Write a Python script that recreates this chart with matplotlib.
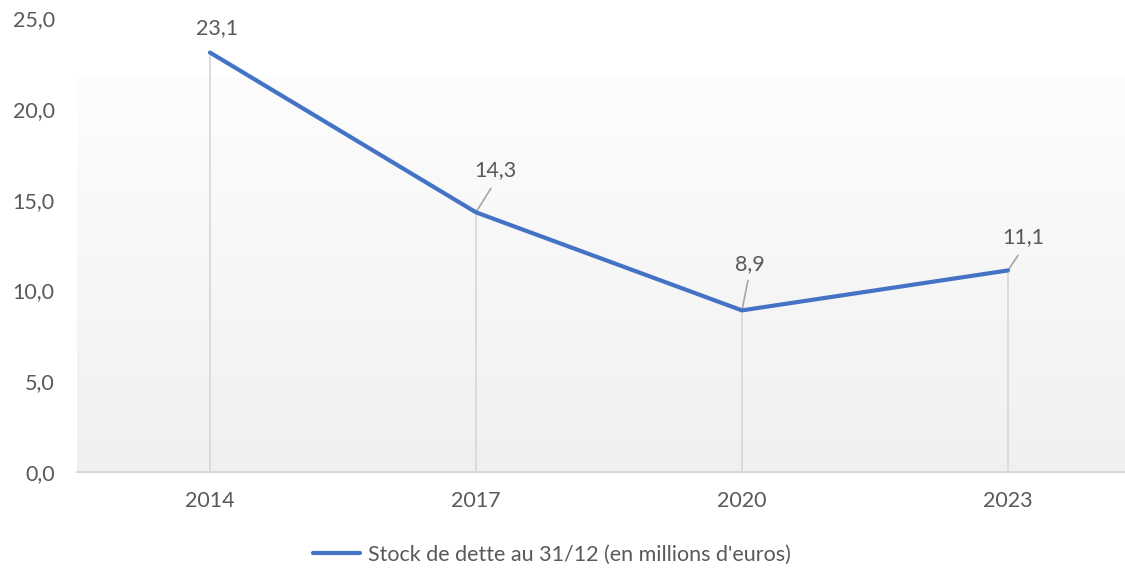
import matplotlib.pyplot as plt
import numpy as np
from matplotlib.colors import LinearSegmentedColormap
from matplotlib.ticker import FuncFormatter

# Data
years = ['2014', '2017', '2020', '2023']
stock = [23.1, 14.3, 8.9, 11.1]
series_name = "Stock de dette au 31/12 (en millions d'euros)"
# label offsets (pixels): text centre, leader end (None = no leader)
label_offsets = [(7, 24), (19, 42), (8, 46), (15, 33)]
leader_offsets = [None, (15, 24), (6, 30), (10, 15)]

plt.rcParams['font.family'] = ['Lato', 'DejaVu Sans']
txt_col = '#595959'
fs = 15.5

fig = plt.figure(figsize=(11.25, 5.74), dpi=100)
ax = fig.add_axes([0.0684, 0.1777, 0.9316, 0.7909])

x = np.arange(len(years))

# gradient background of plot area
grad = np.linspace(0, 1, 256).reshape(-1, 1)
cmap = LinearSegmentedColormap.from_list('bg', ['#f0f0f0', '#fdfdfd'])
ax.imshow(grad, cmap=cmap, aspect='auto', origin='lower',
          extent=[0, 1, 0, 0.87], transform=ax.transAxes, zorder=0)

# drop lines
ax.vlines(x, 0, stock, color='#d9d9d9', linewidth=1.3, zorder=1)

# main line
ax.plot(x, stock, color='#4472C4', linewidth=3, solid_capstyle='round',
        label=series_name, zorder=3)

# data labels
for i, v in enumerate(stock):
    if leader_offsets[i] is not None:
        ax.annotate('', xy=(i, v), xytext=leader_offsets[i], textcoords='offset pixels',
                    arrowprops=dict(arrowstyle='-', color='#a6a6a6', lw=1.2,
                                    shrinkA=0, shrinkB=0), zorder=2)
    ax.annotate('{:.1f}'.format(v).replace('.', ','), xy=(i, v),
                xytext=label_offsets[i], textcoords='offset pixels',
                ha='center', va='center', fontsize=fs, color=txt_col, zorder=4)

ax.set_xlim(-0.5, 3.44)
ax.set_ylim(0, 25)
ax.set_yticks(np.arange(0, 26, 5))
ax.yaxis.set_major_formatter(FuncFormatter(lambda v, p: '{:.1f}'.format(v).replace('.', ',')))
ax.set_xticks(x)
ax.set_xticklabels(years)
ax.tick_params(axis='y', length=0, pad=16, labelsize=fs, labelcolor=txt_col)
ax.tick_params(axis='x', length=0, pad=14, labelsize=fs, labelcolor=txt_col)

for s in ['top', 'right', 'left']:
    ax.spines[s].set_visible(False)
ax.spines['bottom'].set_color('#d9d9d9')
ax.spines['bottom'].set_linewidth(1.5)
ax.spines['bottom'].set_zorder(2)

fig.legend(loc='center', bbox_to_anchor=(552 / 1125, 1 - 555 / 574), frameon=False,
           fontsize=fs, labelcolor=txt_col, handlelength=2.2, handletextpad=0.35)

fig.savefig('out.png', dpi=100)
